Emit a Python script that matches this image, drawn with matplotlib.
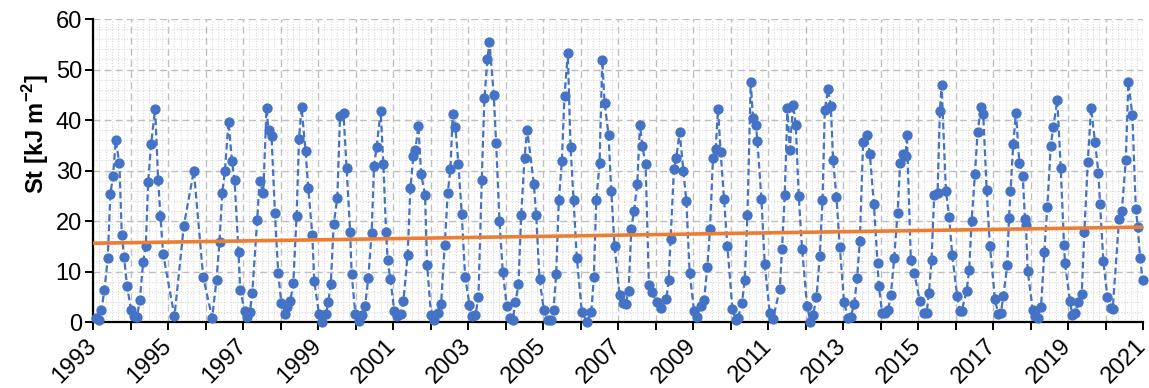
import matplotlib.pyplot as plt
from matplotlib.ticker import MultipleLocator, FixedLocator, FixedFormatter

plt.rcParams['font.family'] = ['Liberation Sans', 'DejaVu Sans']
plt.rcParams['mathtext.fontset'] = 'custom'
plt.rcParams['mathtext.rm'] = 'Liberation Sans'
plt.rcParams['mathtext.bf'] = 'Liberation Sans:bold'

# observation time (decimal year) and St value, one row per year
obs_year = [
    1993.088, 1993.152, 1993.222, 1993.302, 1993.392, 1993.462, 1993.534, 1993.606, 1993.702, 1993.766, 1993.827, 1993.907,
    1994.014, 1994.086, 1994.174, 1994.246, 1994.334, 1994.406, 1994.468, 1994.548, 1994.655, 1994.735, 1994.796, 1994.868,
    1995.170, 1995.421, 1995.687, 1995.936,
    1996.176, 1996.291, 1996.371, 1996.443, 1996.515, 1996.611, 1996.702, 1996.771, 1996.878, 1996.923,
    1997.043, 1997.110, 1997.182, 1997.243, 1997.377, 1997.438, 1997.537, 1997.625, 1997.678, 1997.758, 1997.849, 1997.937,
    1998.017, 1998.111, 1998.169, 1998.258, 1998.338, 1998.426, 1998.490, 1998.559, 1998.666, 1998.738, 1998.845, 1998.898,
    1999.024, 1999.117, 1999.210, 1999.272, 1999.338, 1999.418, 1999.512, 1999.584, 1999.677, 1999.760, 1999.854, 1999.894, 1999.992,
    2000.091, 2000.161, 2000.251, 2000.339, 2000.427, 2000.491, 2000.561, 2000.667, 2000.740, 2000.812, 2000.854, 2000.926,
    2001.033, 2001.105, 2001.212, 2001.273, 2001.388, 2001.460, 2001.540, 2001.594, 2001.674, 2001.746, 2001.852, 2001.906,
    2002.013, 2002.101, 2002.189, 2002.279, 2002.376, 2002.456, 2002.528, 2002.589, 2002.661, 2002.741, 2002.829, 2002.920,
    2003.035, 2003.096, 2003.195, 2003.275, 2003.363, 2003.435, 2003.515, 2003.568, 2003.683, 2003.747, 2003.835, 2003.923,
    2004.030, 2004.129, 2004.190, 2004.262, 2004.342, 2004.414, 2004.503, 2004.575, 2004.751, 2004.815, 2004.903,
    2005.018, 2005.124, 2005.196, 2005.276, 2005.348, 2005.418, 2005.498, 2005.570, 2005.658, 2005.730, 2005.810, 2005.898,
    2006.032, 2006.165, 2006.283, 2006.352, 2006.416, 2006.504, 2006.576, 2006.638, 2006.744, 2006.816, 2006.904,
    2007.038, 2007.126, 2007.198, 2007.278, 2007.350, 2007.420, 2007.510, 2007.580, 2007.644, 2007.732, 2007.820, 2007.900,
    2008.033, 2008.151, 2008.284, 2008.346, 2008.399, 2008.487, 2008.551, 2008.639, 2008.738, 2008.818, 2008.906,
    2009.026, 2009.111, 2009.200, 2009.288, 2009.379, 2009.448, 2009.528, 2009.600, 2009.662, 2009.733, 2009.822, 2009.912,
    2010.045, 2010.134, 2010.195, 2010.302, 2010.374, 2010.446, 2010.534, 2010.595, 2010.668, 2010.713, 2010.819, 2010.908,
    2011.041, 2011.129, 2011.308, 2011.370, 2011.441, 2011.513, 2011.575, 2011.663, 2011.735, 2011.815, 2011.903,
    2012.037, 2012.127, 2012.197, 2012.288, 2012.375, 2012.448, 2012.509, 2012.597, 2012.669, 2012.731, 2012.820, 2012.909,
    2013.024, 2013.130, 2013.203, 2013.291, 2013.371, 2013.443, 2013.531, 2013.622, 2013.710, 2013.817, 2013.916, 2013.950,
    2014.038, 2014.110, 2014.198, 2014.271, 2014.359, 2014.449, 2014.519, 2014.599, 2014.663, 2014.697, 2014.804, 2014.892,
    2015.044, 2015.160, 2015.223, 2015.284, 2015.356, 2015.426, 2015.516, 2015.578, 2015.623, 2015.738, 2015.826, 2015.906,
    2016.040, 2016.112, 2016.157, 2016.291, 2016.360, 2016.424, 2016.512, 2016.584, 2016.672, 2016.734, 2016.824, 2016.912,
    2017.046, 2017.134, 2017.206, 2017.268, 2017.374, 2017.420, 2017.460, 2017.534, 2017.606, 2017.695, 2017.785, 2017.847, 2017.873, 2017.918,
    2018.052, 2018.113, 2018.186, 2018.274, 2018.362, 2018.442, 2018.532, 2018.602, 2018.709, 2018.799, 2018.888, 2018.914,
    2019.048, 2019.109, 2019.181, 2019.269, 2019.360, 2019.430, 2019.520, 2019.608, 2019.715, 2019.803, 2019.848, 2019.937,
    2020.043, 2020.142, 2020.187, 2020.355, 2020.427, 2020.534, 2020.603, 2020.711, 2020.801, 2020.854, 2020.915, 2020.982,
]
st_kj = [
    0.8, 0.5, 2.4, 6.3, 12.6, 25.4, 29.0, 36.0, 31.4, 17.2, 12.9, 7.1,
    2.3, 1.2, 1.0, 4.3, 11.8, 15.1, 27.7, 35.3, 42.2, 28.2, 20.9, 13.5,
    1.1, 19.1, 30.0, 8.9,
    0.8, 8.4, 15.9, 25.5, 29.9, 39.7, 31.9, 28.2, 13.8, 6.4,
    2.1, 1.0, 2.0, 5.7, 20.3, 27.9, 25.5, 42.3, 38.1, 36.9, 21.5, 9.7,
    3.8, 1.5, 3.0, 4.1, 7.7, 20.9, 36.2, 42.5, 33.8, 26.5, 17.3, 8.1,
    1.5, 0.1, 1.5, 4.0, 7.6, 19.5, 24.6, 40.7, 41.3, 30.5, 17.8, 9.6, 1.6,
    0.3, 1.3, 3.1, 8.8, 17.7, 30.9, 34.6, 41.8, 31.3, 17.8, 12.3, 8.5,
    2.1, 1.1, 1.5, 4.1, 13.3, 26.5, 32.8, 34.1, 38.9, 29.4, 25.1, 11.2,
    1.3, 0.5, 1.8, 3.6, 15.3, 25.5, 30.3, 41.2, 38.6, 31.3, 21.4, 9.0,
    3.4, 1.1, 1.3, 5.0, 28.1, 44.4, 52.1, 55.4, 45.0, 35.4, 20.1, 10.0,
    3.1, 0.8, 0.5, 3.9, 7.6, 21.1, 32.5, 38.1, 27.4, 21.1, 8.5,
    2.4, 0.5, 0.5, 2.4, 9.6, 24.1, 31.8, 44.8, 53.3, 34.7, 24.2, 12.7,
    1.9, 0.1, 1.9, 9.0, 24.1, 31.4, 51.9, 43.4, 37.0, 25.9, 15.1,
    5.3, 3.8, 3.6, 6.1, 18.4, 21.9, 27.4, 39.1, 34.9, 31.2, 7.4, 5.9,
    3.9, 2.8, 4.6, 8.3, 16.4, 30.3, 32.5, 37.6, 30.0, 23.9, 9.7,
    2.1, 1.0, 3.1, 4.3, 10.9, 18.4, 32.5, 34.3, 42.2, 33.6, 24.4, 15.1,
    2.6, 0.5, 0.8, 3.8, 8.3, 21.1, 47.5, 40.4, 39.1, 35.8, 24.4, 11.4,
    1.8, 0.6, 6.5, 14.5, 25.2, 42.4, 34.1, 43.0, 39.1, 24.9, 14.5,
    3.1, 0.1, 1.3, 5.0, 13.0, 24.1, 42.0, 46.1, 42.8, 32.0, 24.8, 14.9,
    3.9, 0.8, 1.0, 3.6, 8.7, 16.1, 35.6, 37.1, 33.3, 23.4, 11.6, 7.1,
    1.8, 1.7, 2.3, 5.4, 12.7, 21.5, 31.4, 33.3, 32.8, 37.1, 12.2, 9.8,
    4.1, 1.7, 1.7, 5.7, 12.3, 25.1, 25.5, 41.7, 47.0, 26.0, 20.7, 13.3,
    5.1, 2.2, 2.1, 6.2, 10.4, 20.1, 29.3, 37.6, 42.6, 41.1, 26.2, 15.0,
    4.6, 1.5, 1.8, 5.1, 11.2, 20.6, 25.9, 35.2, 41.4, 31.5, 29.0, 20.4, 19.3, 10.2,
    2.4, 1.1, 0.8, 3.0, 13.8, 22.8, 34.8, 38.6, 44.0, 30.5, 15.3, 11.6,
    4.1, 1.3, 1.7, 3.9, 5.6, 17.8, 31.6, 42.4, 35.6, 29.6, 23.4, 12.0,
    5.0, 2.8, 2.6, 20.4, 21.9, 32.0, 47.5, 40.9, 22.4, 18.8, 12.7, 8.4,
]

# linear trend end points
trend_year = [1993, 2021]
trend_st = [15.6, 18.8]

year_ticks = list(range(1993, 2022))
year_labels = [str(y) if (y - 1993) % 2 == 0 else '' for y in year_ticks]

fig = plt.figure(figsize=(11.49, 3.88), dpi=100)
ax = fig.add_axes([0.081, 0.170, 0.914, 0.781])

ax.plot(obs_year, st_kj, color='#4472C4', linestyle=(0, (3, 1.6)), linewidth=1.6,
        marker='o', markersize=6.4, markerfacecolor='#4472C4', markeredgecolor='#4472C4',
        clip_on=False, zorder=3)
ax.plot(trend_year, trend_st, color='#ED7D31', linewidth=2.6, solid_capstyle='butt', zorder=4)

ax.set_xlim(1993, 2021)
ax.set_ylim(0, 60)

ax.xaxis.set_major_locator(FixedLocator(year_ticks))
ax.xaxis.set_major_formatter(FixedFormatter(year_labels))
ax.xaxis.set_minor_locator(MultipleLocator(1 / 6))
ax.yaxis.set_major_locator(MultipleLocator(10))
ax.yaxis.set_minor_locator(MultipleLocator(2))

ax.grid(which='major', color='#bfbfbf', linestyle=(0, (5, 3)), linewidth=1.0)
ax.grid(which='minor', color='#d9d9d9', linestyle=(0, (1, 1.5)), linewidth=0.8)
ax.set_axisbelow(True)

for side in ['top', 'right']:
    ax.spines[side].set_visible(False)
for side in ['left', 'bottom']:
    ax.spines[side].set_linewidth(1.6)
    ax.spines[side].set_color('black')

ax.tick_params(which='major', direction='out', length=6, width=1.4, colors='black', labelsize=17)
ax.tick_params(axis='y', which='major', pad=2)
ax.tick_params(axis='x', which='major', pad=9)
ax.tick_params(which='minor', length=0)
plt.setp(ax.get_xticklabels(), rotation=45, ha='right', va='center', rotation_mode='anchor')

ax.set_ylabel(r'St [kJ m$^{\mathbf{-2}}$]', fontsize=17, fontweight='bold')
ax.yaxis.set_label_coords(-0.040, 0.62)

fig.savefig('out.png', dpi=100)
